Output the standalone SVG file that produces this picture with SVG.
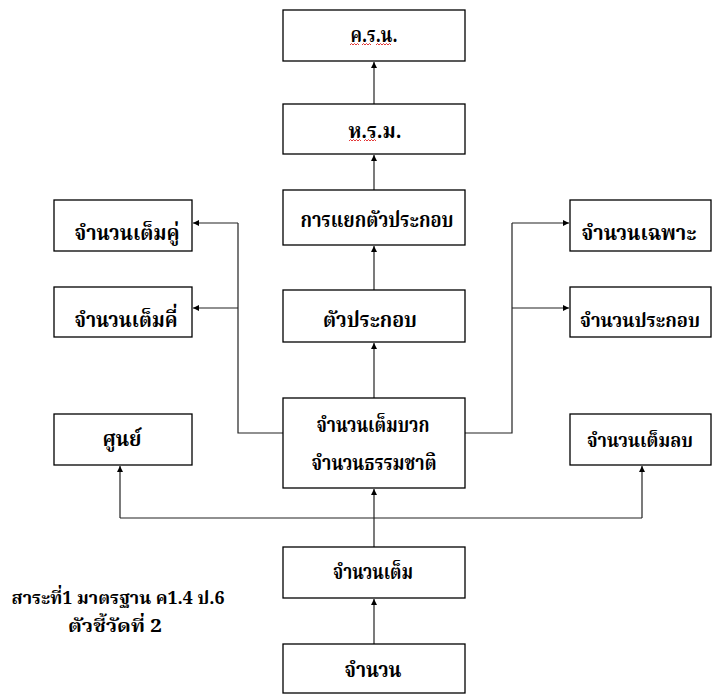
<svg xmlns="http://www.w3.org/2000/svg" width="712" height="694" viewBox="0 0 712 694">
<defs>
<marker id="ah" viewBox="0 0 10 10" refX="10" refY="5" markerWidth="6" markerHeight="6" markerUnits="userSpaceOnUse" orient="auto">
<path d="M0,0 L10,5 L0,10 Z" fill="#000"/>
</marker>
<style>
.box{fill:#fff;stroke:#000;stroke-width:1.3}
.t{font-family:"Noto Serif Thai","Noto Sans Thai","Noto Sans",sans-serif;font-weight:bold;font-size:22px;text-anchor:middle;fill:#000}
.m{font-size:20px}
.s{font-size:18px}
.c{fill:none;stroke:#222;stroke-width:1.2}
.sq{fill:none;stroke:#e02020;stroke-width:0.9}
</style>
</defs>
<rect width="712" height="694" fill="#fff"/>
<g id="connectors">
<line class="c" x1="374" y1="104" x2="374" y2="62" marker-end="url(#ah)"/>
<line class="c" x1="374" y1="190" x2="374" y2="155" marker-end="url(#ah)"/>
<line class="c" x1="374" y1="290" x2="374" y2="246" marker-end="url(#ah)"/>
<line class="c" x1="374" y1="398" x2="374" y2="343" marker-end="url(#ah)"/>
<line class="c" x1="374" y1="547" x2="374" y2="489" marker-end="url(#ah)"/>
<line class="c" x1="374" y1="644" x2="374" y2="599" marker-end="url(#ah)"/>
<polyline class="c" points="283,433 238,433 238,223"/>
<line class="c" x1="238" y1="223" x2="193" y2="223" marker-end="url(#ah)"/>
<line class="c" x1="238" y1="308" x2="193" y2="308" marker-end="url(#ah)"/>
<polyline class="c" points="465,433 512,433 512,223"/>
<line class="c" x1="512" y1="223" x2="569" y2="223" marker-end="url(#ah)"/>
<line class="c" x1="512" y1="308" x2="569" y2="308" marker-end="url(#ah)"/>
<line class="c" x1="120" y1="518" x2="642" y2="518"/>
<line class="c" x1="120" y1="518" x2="120" y2="466" marker-end="url(#ah)"/>
<line class="c" x1="642" y1="518" x2="642" y2="466" marker-end="url(#ah)"/>
</g>
<g id="n-krn"><rect class="box" x="283" y="10" width="182" height="51"/><text class="t" x="374" y="42" textLength="47" lengthAdjust="spacingAndGlyphs">ค.ร.น.</text>
<path class="sq" d="M350,45 l1.5,-1.5 l1.5,1.5 l1.5,-1.5 l1.5,1.5 l1.5,-1.5 l1.5,1.5 M362,45 l1.5,-1.5 l1.5,1.5 l1.5,-1.5 l1.5,1.5 l1.5,-1.5 l1.5,1.5 M376,45 l1.5,-1.5 l1.5,1.5 l1.5,-1.5 l1.5,1.5 l1.5,-1.5 l1.5,1.5 l1.5,-1.5 l1.5,1.5 l1.5,-1.5 l1.5,1.5"/></g>
<g id="n-hrm"><rect class="box" x="283" y="104" width="182" height="50"/><text class="t" x="375" y="138" textLength="53" lengthAdjust="spacingAndGlyphs">ห.ร.ม.</text>
<path class="sq" d="M349,141 l1.5,-1.5 l1.5,1.5 l1.5,-1.5 l1.5,1.5 l1.5,-1.5 l1.5,1.5 l1.5,-1.5 l1.5,1.5 M364,141 l1.5,-1.5 l1.5,1.5 l1.5,-1.5 l1.5,1.5 l1.5,-1.5 l1.5,1.5 l1.5,-1.5 l1.5,1.5"/></g>
<g id="n-factorize"><rect class="box" x="283" y="190" width="182" height="55"/><text class="t" x="377" y="227" textLength="153" lengthAdjust="spacingAndGlyphs">การแยกตัวประกอบ</text></g>
<g id="n-factor"><rect class="box" x="283" y="290" width="182" height="52"/><text class="t" x="370" y="327" textLength="94" lengthAdjust="spacingAndGlyphs">ตัวประกอบ</text></g>
<g id="n-even"><rect class="box" x="54" y="200" width="138" height="51"/><text class="t" x="127" y="240" textLength="105" lengthAdjust="spacingAndGlyphs">จำนวนเต็มคู่</text></g>
<g id="n-odd"><rect class="box" x="54" y="287" width="138" height="50"/><text class="t" x="126" y="327" textLength="103" lengthAdjust="spacingAndGlyphs">จำนวนเต็มคี่</text></g>
<g id="n-prime"><rect class="box" x="570" y="200" width="141" height="51"/><text class="t" x="639" y="240" textLength="115" lengthAdjust="spacingAndGlyphs">จำนวนเฉพาะ</text></g>
<g id="n-composite"><rect class="box" x="570" y="287" width="141" height="50"/><text class="t m" x="640" y="327" textLength="120" lengthAdjust="spacingAndGlyphs">จำนวนประกอบ</text></g>
<g id="n-positive"><rect class="box" x="283" y="398" width="182" height="90"/><text class="t" x="373" y="432" textLength="113" lengthAdjust="spacingAndGlyphs">จำนวนเต็มบวก</text><text class="t" x="374" y="470" textLength="125" lengthAdjust="spacingAndGlyphs">จำนวนธรรมชาติ</text></g>
<g id="n-zero"><rect class="box" x="54" y="414" width="138" height="51"/><text class="t" x="122" y="446" textLength="39" lengthAdjust="spacingAndGlyphs">ศูนย์</text></g>
<g id="n-negative"><rect class="box" x="570" y="414" width="141" height="51"/><text class="t m" x="640" y="447" textLength="106" lengthAdjust="spacingAndGlyphs">จำนวนเต็มลบ</text></g>
<g id="n-integer"><rect class="box" x="283" y="547" width="182" height="51"/><text class="t" x="373" y="579" textLength="80" lengthAdjust="spacingAndGlyphs">จำนวนเต็ม</text></g>
<g id="n-number"><rect class="box" x="283" y="644" width="182" height="49"/><text class="t" x="373" y="677" textLength="57" lengthAdjust="spacingAndGlyphs">จำนวน</text></g>
<g id="caption">
<text class="t s" x="118" y="604" textLength="213" lengthAdjust="spacingAndGlyphs">สาระที่1 มาตรฐาน ค1.4 ป.6</text>
<text class="t s" x="115" y="632" textLength="94" lengthAdjust="spacingAndGlyphs">ตัวชี้วัดที่ 2</text>
</g>
</svg>
